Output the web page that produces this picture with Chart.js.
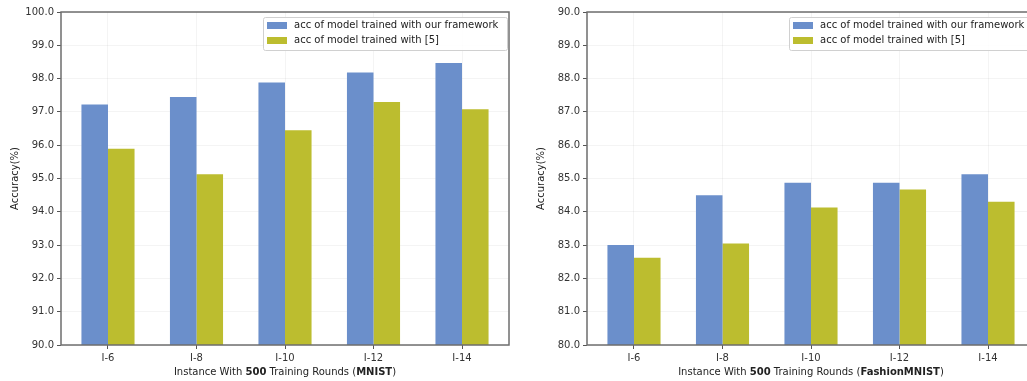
<!DOCTYPE html>
<html>
<head>
<meta charset="utf-8">
<script src="https://cdn.jsdelivr.net/npm/chart.js@4.4.1/dist/chart.umd.min.js"></script>
<style>
  html, body { margin: 0; padding: 0; background: #fff; }
  body { width: 1027px; height: 381px; overflow: hidden; position: relative; }
  .box { position: absolute; top: 0; width: 515px; height: 381px; }
  #wrapA { left: 0; }
  #wrapB { left: 526px; }
</style>
</head>
<body>
<div class="box" id="wrapA"><canvas id="chartA" width="515" height="381"></canvas></div>
<div class="box" id="wrapB"><canvas id="chartB" width="515" height="381"></canvas></div>
<script>
/* data */
var categories = ['I-6', 'I-8', 'I-10', 'I-12', 'I-14'];
var seriesNames = ['acc of model trained with our framework', 'acc of model trained with [5]'];

var mnistOurs  = [97.22, 97.45, 97.88, 98.18, 98.47];
var mnistRef5  = [95.89, 95.13, 96.45, 97.30, 97.08];
var fashionOurs = [83.00, 84.50, 84.87, 84.87, 85.13];
var fashionRef5 = [82.62, 83.05, 84.13, 84.67, 84.30];

var mnistRange   = [90, 100];
var fashionRange = [80, 90];

var BLUE = '#6b8fcb';
var OLIVE = '#bcbd2f';
var FONT = '"DejaVu Sans", sans-serif';

// full box round the plot, like matplotlib spines
var framePlugin = {
  id: 'frame',
  afterDatasetsDraw: function(chart) {
    var a = chart.chartArea, ctx = chart.ctx;
    ctx.save();
    ctx.strokeStyle = '#6e6e6e';
    ctx.lineWidth = 1.5;
    ctx.strokeRect(a.left, a.top, a.right - a.left, a.bottom - a.top);
    ctx.restore();
  }
};

// legend box in upper right corner of the plot
var boxLegend = {
  id: 'boxLegend',
  afterDraw: function(chart) {
    var a = chart.chartArea, ctx = chart.ctx;
    var w = 244, h = 33;
    var x = a.right - w - 2, y = a.top + 5;
    ctx.save();
    ctx.fillStyle = 'rgba(255,255,255,0.85)';
    ctx.strokeStyle = '#d0d0d0';
    ctx.lineWidth = 1;
    ctx.beginPath();
    ctx.roundRect(x + 0.5, y + 0.5, w, h, 2);
    ctx.fill();
    ctx.stroke();
    ctx.font = '10px ' + FONT;
    ctx.textBaseline = 'middle';
    chart.data.datasets.forEach(function(ds, i) {
      var cy = y + 8.5 + i * 15;
      ctx.fillStyle = ds.backgroundColor;
      ctx.fillRect(x + 4, cy - 3.5, 20, 7);
      ctx.fillStyle = '#222';
      ctx.fillText(ds.label, x + 31, cy);
    });
    ctx.restore();
  }
};

// axis titles; x title has bold parts
var axisTitles = {
  id: 'axisTitles',
  afterDraw: function(chart, args, opts) {
    var a = chart.chartArea, ctx = chart.ctx;
    ctx.save();
    ctx.fillStyle = '#222';
    ctx.textBaseline = 'middle';
    var parts = opts.xParts;
    var total = 0;
    parts.forEach(function(p) {
      ctx.font = (p[1] ? 'bold ' : '') + '10px ' + FONT;
      total += ctx.measureText(p[0]).width;
    });
    var cx = (a.left + a.right) / 2 - total / 2;
    parts.forEach(function(p) {
      ctx.font = (p[1] ? 'bold ' : '') + '10px ' + FONT;
      ctx.textAlign = 'left';
      ctx.fillText(p[0], cx, 372);
      cx += ctx.measureText(p[0]).width;
    });
    ctx.translate(15, (a.top + a.bottom) / 2);
    ctx.rotate(-Math.PI / 2);
    ctx.font = '10px ' + FONT;
    ctx.textAlign = 'center';
    ctx.fillText('Accuracy(%)', 0, 0);
    ctx.restore();
  }
};

function pts(vals) {
  return vals.map(function(v, i) { return { x: i, y: v }; });
}

function makeChart(id, ours, ref5, yRange, dsName) {
  return new Chart(document.getElementById(id), {
    type: 'bar',
    data: {
      datasets: [
        { label: seriesNames[0], data: pts(ours), backgroundColor: BLUE, borderWidth: 0 },
        { label: seriesNames[1], data: pts(ref5), backgroundColor: OLIVE, borderWidth: 0 }
      ]
    },
    options: {
      responsive: false,
      animation: false,
      layout: { padding: { top: 12, right: 6, left: 0, bottom: 0 } },
      datasets: { bar: { categoryPercentage: 0.6, barPercentage: 1.0 } },
      plugins: {
        legend: { display: false },
        tooltip: { enabled: false },
        axisTitles: { xParts: [['Instance With ', false], ['500', true], [' Training Rounds (', false], [dsName, true], [')', false]] }
      },
      scales: {
        x: {
          type: 'linear',
          offset: false,
          min: -0.531, max: categories.length - 1 + 0.531,
          afterBuildTicks: function(s) { s.ticks = categories.map(function(c, i) { return { value: i }; }); },
          grid: { offset: false, color: 'rgba(0,0,0,0.045)', tickColor: '#555', tickLength: 4, drawTicks: true },
          border: { display: false },
          ticks: {
            color: '#333', font: { family: FONT, size: 10 }, padding: 3, maxRotation: 0,
            callback: function(v) { return categories[v]; }
          },
          afterFit: function(s) { s.height = 36; }
        },
        y: {
          min: yRange[0], max: yRange[1],
          grid: { color: 'rgba(0,0,0,0.045)', tickColor: '#555', tickLength: 4 },
          border: { display: false },
          ticks: {
            stepSize: 1, color: '#333', font: { family: FONT, size: 10 }, padding: 3,
            callback: function(v) { return Number(v).toFixed(1); }
          },
          afterFit: function(s) { s.width = 61; }
        }
      }
    },
    plugins: [framePlugin, boxLegend, axisTitles]
  });
}

makeChart('chartA', mnistOurs, mnistRef5, mnistRange, 'MNIST');
makeChart('chartB', fashionOurs, fashionRef5, fashionRange, 'FashionMNIST');
</script>
</body>
</html>
